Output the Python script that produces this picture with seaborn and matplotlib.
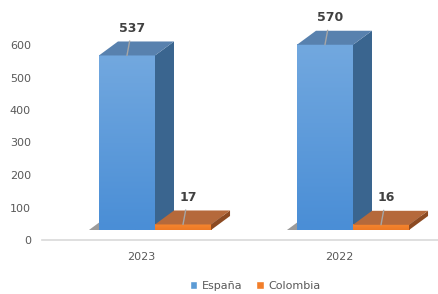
import numpy as np
import pandas as pd
import matplotlib
matplotlib.use("Agg")
import matplotlib.pyplot as plt
import matplotlib.transforms as mtransforms
from matplotlib.patches import Polygon
from matplotlib.colors import LinearSegmentedColormap
import seaborn as sns

# ── Data ──────────────────────────────────────────────────────
years = ["2023", "2022"]
countries = ["España", "Colombia"]
espana = [537, 570]
colombia = [17, 16]

df = pd.DataFrame({
    "year": years * 2,
    "country": [countries[0]] * len(years) + [countries[1]] * len(years),
    "value": espana + colombia,
})

# ── Style ─────────────────────────────────────────────────────
FRONT = {"España": "#5B9BD5", "Colombia": "#F27E2A"}
GRAD = {"España": ("#4A8ED6", "#72A8DF"), "Colombia": ("#EE7A26", "#F5852F")}
TOP = {"España": "#5881AE", "Colombia": "#B5693B"}
SIDE = {"España": "#3A658F", "Colombia": "#8C4A22"}
TEXT = "#595959"
PX = 1 / 100            # one pixel in inches at dpi=100
FRONT_SHIFT = (14, 10)  # front face shift (px)
DEPTH = (19, 14)        # 3d depth (px)

sns.set_theme(style="white")
plt.rcParams["font.family"] = ["DejaVu Sans"]

fig = plt.figure(figsize=(4.38, 2.94), dpi=100)
fig.patch.set_facecolor("white")
ax = fig.add_axes([42 / 438, 54 / 294, 396 / 438, 227.5 / 294])

sns.barplot(data=df, x="year", y="value", hue="country", order=years,
            hue_order=countries, palette=FRONT, width=0.566, saturation=1,
            ax=ax)
handles, labels = ax.get_legend_handles_labels()
if ax.get_legend() is not None:
    ax.get_legend().remove()

XLIM, YLIM = (-0.5, 1.5), (0, 700)
ax.set_xlim(*XLIM)
ax.set_ylim(*YLIM)

front_tr = ax.transData + mtransforms.ScaledTranslation(
    FRONT_SHIFT[0] * PX, FRONT_SHIFT[1] * PX, fig.dpi_scale_trans)
ident = mtransforms.IdentityTransform()
grad = np.linspace(0, 1, 64).reshape(-1, 1)
dx, dy = DEPTH

for i, (country, container) in enumerate(zip(countries, ax.containers)):
    z = 2 + i
    cmap = LinearSegmentedColormap.from_list(country, GRAD[country])
    for bar in container:
        x0, w, h = bar.get_x(), bar.get_width(), bar.get_height()
        bar.set_transform(front_tr)
        bar.set_zorder(z)
        bar.set_edgecolor("none")
        (ax0, ay0), (ax1, ay1) = front_tr.transform([(x0, 0), (x0 + w, h)])

        # floor shadow
        shadow = Polygon([(ax0 - 10, ay0), (ax1 - 6, ay0),
                          (ax1 + dx - 6, ay0 + dy), (ax0 + dx - 10, ay0 + dy)],
                         closed=True, transform=ident, facecolor="#595959",
                         alpha=0.6, edgecolor="none", zorder=1.5)
        ax.add_patch(shadow)

        # gradient on front face
        ax.imshow(grad, extent=(x0, x0 + w, 0, h), origin="lower", cmap=cmap,
                  aspect="auto", transform=front_tr, zorder=z,
                  interpolation="bilinear")

        # side face
        side = Polygon([(ax1, ay0), (ax1 + dx, ay0 + dy), (ax1 + dx, ay1 + dy), (ax1, ay1)],
                       closed=True, transform=ident, facecolor=SIDE[country],
                       edgecolor="none", zorder=z)
        ax.add_patch(side)
        # top face
        top = Polygon([(ax0, ay1), (ax1, ay1), (ax1 + dx, ay1 + dy), (ax0 + dx, ay1 + dy)],
                      closed=True, transform=ident, facecolor=TOP[country],
                      edgecolor="none", zorder=z)
        ax.add_patch(top)

        # data label with leader line
        ax.annotate(f"{h:.0f}", xy=(x0 + w / 2, h), xycoords=front_tr,
                    xytext=(5, 27), textcoords="offset pixels",
                    ha="center", va="center", fontsize=9, fontweight="bold",
                    color="#404040", zorder=6,
                    arrowprops=dict(arrowstyle="-", color="#A6A6A6", lw=1,
                                    shrinkA=2, shrinkB=0))

ax.set_xlim(*XLIM)
ax.set_ylim(*YLIM)
ax.set_yticks(range(0, 700, 100))
ax.set_xlabel("")
ax.set_ylabel("")
ax.tick_params(axis="both", length=0, colors=TEXT, labelsize=8)
ax.tick_params(axis="y", pad=8)
ax.tick_params(axis="x", pad=9)
sns.despine(ax=ax, left=True)
ax.spines["bottom"].set_color("#D9D9D9")
ax.spines["bottom"].set_linewidth(1.2)
ax.spines["bottom"].set_zorder(1)
ax.grid(False)

fig.legend(handles, labels, loc="center", bbox_to_anchor=(255 / 438, 8 / 294),
           ncol=2, frameon=False, fontsize=8, handlelength=0.7, handleheight=0.7,
           handletextpad=0.4, columnspacing=1.2, labelcolor=TEXT,
           borderpad=0.1)

fig.savefig("out.png", dpi=100)
